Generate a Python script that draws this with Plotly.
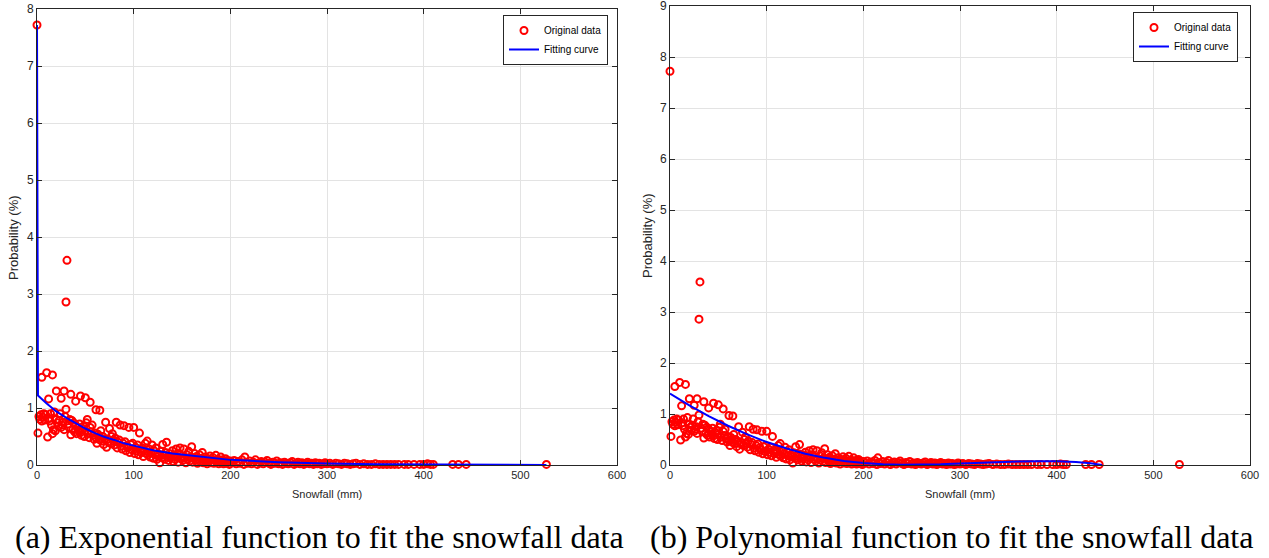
import plotly.graph_objects as go

# ---------------- data ----------------
snow_x = [0,
    1,2,3,4,5,6,7,8,9,11,12,13,14,15,16,17,18,19,20,21,22,23,24,25,26,27,28,29,30,
    5,10,16,12,20,25,28,35,40,45,50,55,61,65,
    31,30,
    32,33,34,35,36,37,38,39,40,41,42,43,44,45,46,47,48,49,50,51,52,53,54,55,56,57,58,59,60,
    61,62,63,64,65,66,67,68,69,70,72,74,
    71,75,78,82,86,90,95,100,106,
    73,76,77,79,80,81,83,84,85,87,88,89,91,92,93,94,96,97,98,99,101,102,103,104,105,107,108,109,
    110,111,112,113,114,115,116,117,118,119,120,121,122,123,124,125,126,127,128,129,130,
    131,132,133,134,135,136,137,138,139,140,141,142,143,144,145,146,147,148,149,150,151,152,153,
    154,155,156,157,158,159,160,161,162,163,164,165,166,167,168,169,170,171,172,173,174,175,176,
    177,178,179,180,181,182,183,184,185,186,187,188,189,190,191,192,193,194,195,196,197,198,199,200,
    202,204,206,208,210,212,214,215,216,218,220,222,224,226,228,230,232,234,236,238,240,242,244,
    246,248,250,252,254,256,258,260,262,264,266,268,270,272,274,276,278,280,282,284,286,288,290,
    292,294,296,298,300,
    303,306,309,312,315,318,321,324,327,330,334,338,342,346,350,354,358,362,366,370,374,380,384,
    390,396,400,404,407,410,430,436,444,527]
snow_p = [7.72,
    0.56,0.85,0.80,0.88,0.77,0.84,0.90,0.79,0.88,0.49,0.82,0.77,0.90,0.70,0.55,0.62,0.93,0.60,0.80,
    0.74,0.68,0.78,0.90,0.66,0.70,0.75,0.62,0.85,0.98,
    1.54,1.62,1.58,1.16,1.30,1.17,1.30,1.24,1.12,1.21,1.18,1.10,0.97,0.96,
    3.59,2.86,
    0.72,0.66,0.80,0.53,0.78,0.62,0.74,0.58,0.70,0.55,0.66,0.60,0.72,0.57,0.52,0.64,0.68,0.50,0.60,
    0.74,0.80,0.55,0.48,0.66,0.58,0.70,0.52,0.45,0.56,
    0.48,0.38,0.54,0.50,0.44,0.60,0.42,0.50,0.36,0.46,0.31,0.40,
    0.75,0.64,0.55,0.75,0.70,0.69,0.66,0.66,0.56,
    0.45,0.38,0.50,0.42,0.35,0.47,0.30,0.40,0.44,0.33,0.28,0.38,0.41,0.25,0.34,0.30,0.22,0.36,0.27,
    0.38,0.20,0.31,0.25,0.35,0.18,0.28,0.22,0.30,
    0.15,0.26,0.38,0.20,0.42,0.18,0.28,0.14,0.22,0.35,0.12,0.25,0.18,0.30,0.10,0.20,0.16,0.04,0.24,
    0.13,0.36,
    0.18,0.10,0.22,0.40,0.14,0.08,0.20,0.12,0.16,0.25,0.06,0.18,0.10,0.28,0.14,0.05,0.20,0.30,0.11,
    0.16,0.08,0.28,0.12,
    0.04,0.18,0.10,0.24,0.07,0.14,0.32,0.05,0.12,0.20,0.08,0.15,0.03,0.10,0.18,0.06,0.12,0.22,0.04,
    0.09,0.14,0.06,0.02,
    0.11,0.07,0.16,0.04,0.09,0.13,0.03,0.08,0.17,0.05,0.10,0.02,0.07,0.14,0.04,0.09,0.02,0.06,0.11,
    0.03,0.08,0.05,0.01,0.07,
    0.04,0.08,0.02,0.06,0.03,0.09,0.01,0.14,0.05,0.03,0.07,0.02,0.05,0.09,0.01,0.04,0.06,0.02,0.05,
    0.08,0.03,0.01,0.05,
    0.03,0.07,0.02,0.04,0.01,0.05,0.03,0.02,0.04,0.06,0.01,0.03,0.05,0.02,0.04,0.01,0.03,0.05,0.02,
    0.03,0.01,0.04,0.02,
    0.03,0.01,0.02,0.04,0.02,
    0.03,0.01,0.03,0.02,0.01,0.03,0.02,0.01,0.02,0.03,0.01,0.02,0.01,0.01,0.02,0.01,0.01,0.01,0.01,
    0.01,0.01,0.01,0.01,
    0.01,0.01,0.01,0.02,0.01,0.01,0.01,0.01,0.01,0.01]

exp_fit_x = [0, 1, 10, 20, 30, 40, 50, 60, 70, 80, 90, 100, 120, 140, 160, 180, 200,
             250, 300, 350, 400, 450, 527]
exp_fit_y = [7.72, 1.22, 1.08, 0.94, 0.83, 0.73, 0.64, 0.56, 0.49, 0.44, 0.38, 0.34, 0.26,
             0.20, 0.16, 0.12, 0.09, 0.05, 0.025, 0.015, 0.008, 0.004, 0.002]

poly_fit_x = [0, 20, 40, 60, 80, 100, 120, 140, 160, 180, 200, 220, 240, 260, 280, 300,
              320, 340, 360, 380, 400, 420, 435, 447]
poly_fit_y = [1.40, 1.17, 0.96, 0.77, 0.60, 0.45, 0.33, 0.22, 0.14, 0.08, 0.04, 0.015,
              0.005, 0.005, 0.015, 0.03, 0.045, 0.06, 0.07, 0.075, 0.075, 0.06, 0.035, 0.0]

x_ticks = [0, 100, 200, 300, 400, 500, 600]
captions = ["(a) Exponential function to fit the snowfall data",
            "(b) Polynomial function to fit the snowfall data"]

# ---------------- figure ----------------
W, H = 1269, 558
TXT = "#262626"
SANS = "Liberation Sans, Arial"

def fx(px):                  # page pixel -> paper x
    return px / W

def fy(py):                  # page pixel -> paper y
    return 1 - py / H

fig = go.Figure()

marker = dict(symbol="circle-open", size=7, color="#ff0000", line=dict(width=2, color="#ff0000"))

fig.add_trace(go.Scatter(x=snow_x, y=snow_p, mode="markers", marker=marker, name="Original data",
                         xaxis="x", yaxis="y", legend="legend", cliponaxis=False))
fig.add_trace(go.Scatter(x=exp_fit_x, y=exp_fit_y, mode="lines", line=dict(color="#0000ff", width=2),
                         name="Fitting curve", xaxis="x", yaxis="y", legend="legend"))
fig.add_trace(go.Scatter(x=snow_x, y=snow_p, mode="markers", marker=marker, name="Original data",
                         xaxis="x2", yaxis="y2", legend="legend2", cliponaxis=False))
fig.add_trace(go.Scatter(x=poly_fit_x, y=poly_fit_y, mode="lines", line=dict(color="#0000ff", width=2),
                         name="Fitting curve", xaxis="x2", yaxis="y2", legend="legend2"))

def xax(domain, anchor):
    return dict(domain=domain, anchor=anchor, range=[0, 600], tickvals=x_ticks, automargin=False,
                showgrid=True, gridcolor="#e3e3e3", gridwidth=1, zeroline=False,
                showline=True, linecolor=TXT, linewidth=1, mirror="ticks",
                ticks="inside", ticklen=5, tickcolor=TXT, ticklabeloverflow="allow",
                tickfont=dict(family=SANS, size=11, color=TXT))

def yax(domain, anchor, top):
    return dict(domain=domain, anchor=anchor, range=[0, top], dtick=1, automargin=False,
                showgrid=True, gridcolor="#e3e3e3", gridwidth=1, zeroline=False,
                showline=True, linecolor=TXT, linewidth=1, mirror="ticks",
                ticks="inside", ticklen=5, tickcolor=TXT, ticklabeloverflow="allow",
                tickfont=dict(family=SANS, size=12, color=TXT))

leg_common = dict(bgcolor="white", bordercolor=TXT, borderwidth=1,
                  font=dict(family=SANS, size=10, color="black"),
                  xanchor="right", yanchor="top", itemwidth=30, tracegroupgap=0)

fig.update_layout(
    width=W, height=H, margin=dict(l=0, r=0, t=0, b=0),
    paper_bgcolor="white", plot_bgcolor="white", showlegend=True,
    xaxis=xax([fx(37), fx(617)], "y"),
    yaxis=yax([fy(465), fy(9)], "x", 8),
    xaxis2=xax([fx(670), fx(1250)], "y2"),
    yaxis2=yax([fy(465), fy(6)], "x2", 9),
    legend=dict(x=fx(608), y=fy(15), **leg_common),
    legend2=dict(x=fx(1238), y=fy(12), **leg_common),
)

ann_font = dict(family=SANS, size=11, color=TXT)
ylab_font = dict(family=SANS, size=13, color=TXT)
cap_font = dict(family="Liberation Serif, Times New Roman", size=32, color="black")
annotations = [
    dict(x=fx(327), y=fy(494), text="Snowfall (mm)", font=ann_font),
    dict(x=fx(960), y=fy(494), text="Snowfall (mm)", font=ann_font),
    dict(x=fx(14), y=fy(238), text="Probability (%)", textangle=-90, font=ylab_font),
    dict(x=fx(647), y=fy(236), text="Probability (%)", textangle=-90, font=ylab_font),
    dict(x=fx(320), y=fy(537), text=captions[0], font=cap_font),
    dict(x=fx(951), y=fy(537), text=captions[1], font=cap_font),
]
for a in annotations:
    a.update(showarrow=False, xref="paper", yref="paper", xanchor="center", yanchor="middle")
fig.update_layout(annotations=annotations)

fig.write_html("out.html", config={"displayModeBar": False},
               post_script="document.body.style.margin='0px';")
